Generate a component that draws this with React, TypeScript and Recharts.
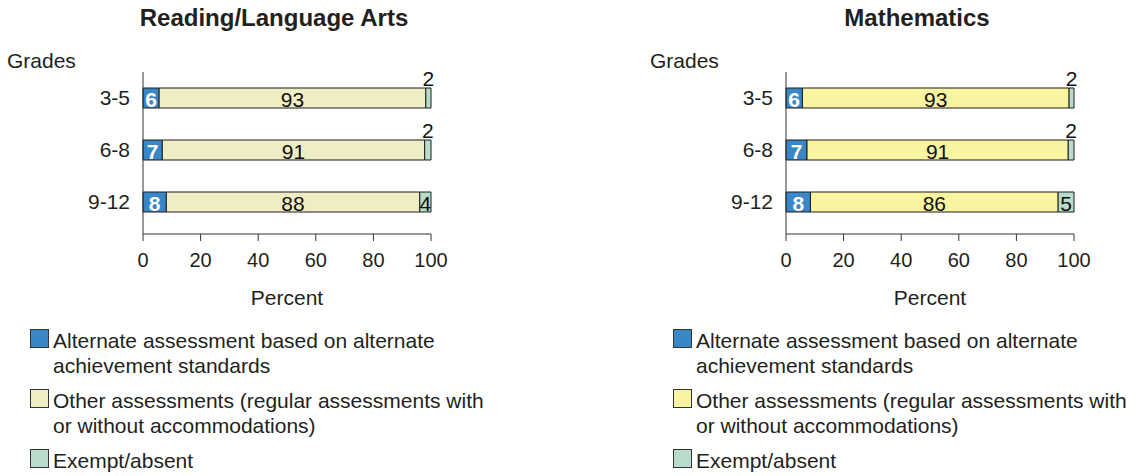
import React from "react";
import { BarChart, Bar, XAxis, YAxis, LabelList } from "recharts";

// grade bands, top to bottom
const GRADES = ["3-5", "6-8", "9-12"];

const RLA_ALT = [5.6, 6.7, 8.1];
const RLA_OTHER = [92.6, 91.1, 88.0];
const RLA_EXEMPT = [1.8, 2.2, 3.9];
const RLA_ALT_LABELS = [6, 7, 8];
const RLA_OTHER_LABELS = [93, 91, 88];
const RLA_EXEMPT_LABELS = [2, 2, 4];

// Mathematics
const MATH_ALT = [5.7, 7.3, 8.5];
const MATH_OTHER = [92.6, 90.7, 86.0];
const MATH_EXEMPT = [1.7, 2.0, 5.5];
const MATH_ALT_LABELS = [6, 7, 8];
const MATH_OTHER_LABELS = [93, 91, 86];
const MATH_EXEMPT_LABELS = [2, 2, 5];

const X_TICKS = [0, 20, 40, 60, 80, 100];

const LEGEND_ITEMS = [
  { key: "alt", lines: ["Alternate assessment based on alternate", "achievement standards"] },
  { key: "other", lines: ["Other assessments (regular assessments with", "or without accommodations)"] },
  { key: "exempt", lines: ["Exempt/absent"] },
];

const BLUE = "#3A87C8";
const KHAKI = "#EFEDC4";
const YELLOW = "#F8F4A0";
const GREEN = "#B7DCCC";
const STROKE = "#1c1c1c";
const INK = "#231F20";
const FONT = '"Liberation Sans", Arial, Helvetica, sans-serif';

const buildRows = (
  alt: number[],
  other: number[],
  exempt: number[],
  altL: number[],
  otherL: number[],
  exemptL: number[]
) =>
  GRADES.map((grade, i) => ({
    grade,
    alt: alt[i],
    other: other[i],
    exempt: exempt[i],
    altLabel: altL[i],
    otherLabel: otherL[i],
    exemptLabel: exemptL[i],
  }));

// label centred in its segment
const centerLabel = (fill: string, bold: boolean) => (props: any) => {
  const { x, y, width, height, value } = props;
  const cx = Number(x) + Number(width) / 2;
  const cy = Number(y) + Number(height) / 2;
  return (
    <text
      x={cx}
      y={cy + 9}
      textAnchor="middle"
      fill={fill}
      fontSize={21}
      fontWeight={bold ? "bold" : "normal"}
    >
      {value}
    </text>
  );
};

// exempt label: above the bar when the segment is too thin
const exemptLabel = (props: any) => {
  const { x, y, width, height, value } = props;
  const cx = Number(x) + Number(width) / 2;
  if (Number(width) < 8) {
    return (
      <text x={cx} y={Number(y) - 2} textAnchor="middle" fill="#111" fontSize={21}>
        {value}
      </text>
    );
  }
  return (
    <text
      x={cx}
      y={Number(y) + Number(height) / 2 + 9}
      textAnchor="middle"
      fill="#111"
      fontSize={21}
    >
      {value}
    </text>
  );
};

interface PanelProps {
  left: number;
  title: string;
  rows: any[];
  otherColor: string;
}

const Panel = ({ left, title, rows, otherColor }: PanelProps) => {
  const colors: Record<string, string> = { alt: BLUE, other: otherColor, exempt: GREEN };
  return (
    <div style={{ position: "absolute", left, top: 0, width: 500, height: 476 }}>
      <div
        style={{
          position: "absolute",
          left: 74,
          top: 6,
          width: 400,
          textAlign: "center",
          fontSize: 24,
          lineHeight: "24px",
          fontWeight: "bold",
          color: INK,
        }}
      >
        {title}
      </div>
      <div
        style={{
          position: "absolute",
          left: 7,
          top: 50,
          fontSize: 21,
          lineHeight: "21px",
          color: INK,
        }}
      >
        Grades
      </div>
      <div style={{ position: "absolute", left: 0, top: 0 }}>
        <BarChart
          width={460}
          height={310}
          layout="vertical"
          data={rows}
          margin={{ top: 72, right: 29, bottom: 0, left: 0 }}
          barSize={20}
        >
          <XAxis
            type="number"
            domain={[0, 100]}
            ticks={X_TICKS}
            height={76}
            tickSize={7}
            tickMargin={12}
            axisLine={{ stroke: "#333" }}
            tickLine={{ stroke: "#333" }}
            tick={{ fill: INK, fontSize: 20 }}
            label={{
              value: "Percent",
              position: "insideBottom",
              offset: 5,
              fill: INK,
              fontSize: 21,
            }}
          />
          <YAxis
            type="category"
            dataKey="grade"
            width={143}
            tickLine={false}
            tickSize={0}
            tickMargin={13}
            padding={{ top: 0, bottom: 6 }}
            axisLine={{ stroke: "#333" }}
            tick={{ fill: INK, fontSize: 21 }}
          />
          <Bar dataKey="alt" stackId="s" fill={BLUE} stroke={STROKE} strokeWidth={1} isAnimationActive={false}>
            <LabelList dataKey="altLabel" content={centerLabel("#fff", true)} />
          </Bar>
          <Bar dataKey="other" stackId="s" fill={otherColor} stroke={STROKE} strokeWidth={1} isAnimationActive={false}>
            <LabelList dataKey="otherLabel" content={centerLabel("#111", false)} />
          </Bar>
          <Bar dataKey="exempt" stackId="s" fill={GREEN} stroke={STROKE} strokeWidth={1} isAnimationActive={false}>
            <LabelList dataKey="exemptLabel" content={exemptLabel} />
          </Bar>
        </BarChart>
      </div>
      {LEGEND_ITEMS.map((item, i) => {
        const top = 328 + i * 60;
        return (
          <div key={item.key}>
            <div
              style={{
                position: "absolute",
                left: 30,
                top: top + 1,
                width: 19,
                height: 19,
                boxSizing: "border-box",
                border: "1px solid #333",
                background: colors[item.key],
              }}
            />
            <div
              style={{
                position: "absolute",
                left: 53,
                top,
                fontSize: 21,
                lineHeight: "25px",
                color: INK,
                whiteSpace: "nowrap",
              }}
            >
              {item.lines.map((l, j) => (
                <div key={j}>{l}</div>
              ))}
            </div>
          </div>
        );
      })}
    </div>
  );
};

export default function App() {
  const rlaRows = buildRows(RLA_ALT, RLA_OTHER, RLA_EXEMPT, RLA_ALT_LABELS, RLA_OTHER_LABELS, RLA_EXEMPT_LABELS);
  const mathRows = buildRows(MATH_ALT, MATH_OTHER, MATH_EXEMPT, MATH_ALT_LABELS, MATH_OTHER_LABELS, MATH_EXEMPT_LABELS);
  return (
    <div
      style={{
        position: "absolute",
        left: 0,
        top: 0,
        width: 1139,
        height: 476,
        background: "#fff",
        fontFamily: FONT,
        overflow: "hidden",
      }}
    >
      <Panel left={0} title="Reading/Language Arts" rows={rlaRows} otherColor={KHAKI} />
      <Panel left={643} title="Mathematics" rows={mathRows} otherColor={YELLOW} />
    </div>
  );
}
